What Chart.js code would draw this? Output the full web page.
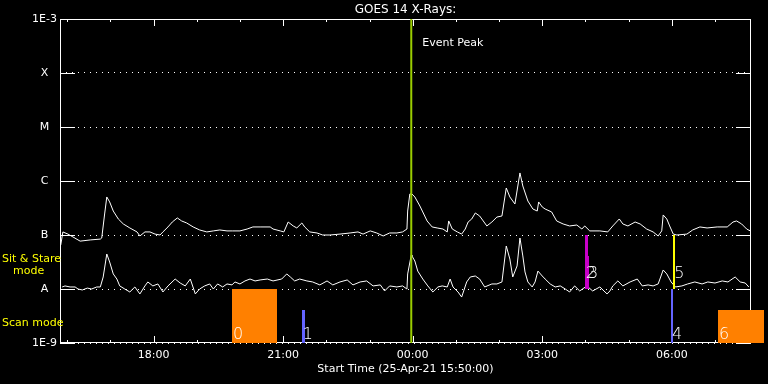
<!DOCTYPE html>
<html>
<head>
<meta charset="utf-8">
<title>GOES 14 X-Rays</title>
<script src="https://cdn.jsdelivr.net/npm/chart.js@4/dist/chart.umd.min.js"></script>
<style>
  html, body { margin: 0; padding: 0; background: #000; }
  #wrap { width: 768px; height: 384px; }
</style>
</head>
<body>
<div id="wrap"><canvas id="chart" width="768" height="384"></canvas></div>
<script>
// Time axis: minutes after start (25-Apr-21 15:50:00)
const startLabel = 'Start Time (25-Apr-21 15:50:00)';
const hourTickMinutes = [10, 70, 130, 190, 250, 310, 370, 430, 490, 550, 610, 670, 730, 790, 850, 910];
const xTickLabels = ['', '', '18:00', '', '', '21:00', '', '', '00:00', '', '', '03:00', '', '', '06:00', ''];

// Flux axis (W/m^2), one tick per decade
const yTickValues = [1e-9, 1e-8, 1e-7, 1e-6, 1e-5, 1e-4, 1e-3];
const yTickLabels = ['1E-9', 'A', 'B', 'C', 'M', 'X', '1E-3'];

// GOES 14 long channel (1-8 A)
const longTimes = [1, 4, 11, 18, 28, 42, 56, 58, 62, 65,
    69, 74, 81, 88, 97, 107, 111, 118, 125, 132,
    139, 143, 150, 156, 163, 169, 176, 185, 194, 204,
    213, 222, 232, 240, 250, 260, 268, 278, 292, 296,
    306, 311, 317, 324, 329, 336, 340, 347, 357, 365,
    375, 389, 403, 414, 421, 431, 440, 449, 458, 468,
    476, 482, 483, 486, 489, 493, 500, 504, 510, 517,
    524, 532, 538, 540, 545, 552, 558, 563, 567, 572,
    577, 583, 588, 593, 600, 607, 614, 620, 625, 632,
    639, 643, 650, 657, 663, 665, 670, 674, 683, 690,
    699, 708, 718, 725, 729, 736, 750, 761, 768, 777,
    782, 789, 799, 806, 815, 824, 831, 836, 838, 843,
    847, 852, 857, 871, 879, 889, 899, 913, 927, 935,
    940, 947, 954, 959];
const longFlux = [6.5e-8, 1.14e-7, 1.04e-7, 9.2e-8, 7.7e-8, 8.1e-8, 8.4e-8, 8.8e-8, 2.45e-7, 5.06e-7,
    4.09e-7, 2.78e-7, 1.98e-7, 1.60e-7, 1.35e-7, 1.14e-7, 9.6e-8, 1.14e-7, 1.14e-7, 1.04e-7,
    1.0e-7, 1.14e-7, 1.41e-7, 1.74e-7, 2.07e-7, 1.82e-7, 1.67e-7, 1.41e-7, 1.24e-7, 1.14e-7,
    1.19e-7, 1.24e-7, 1.19e-7, 1.19e-7, 1.19e-7, 1.29e-7, 1.41e-7, 1.41e-7, 1.41e-7, 1.29e-7,
    1.19e-7, 1.14e-7, 1.74e-7, 1.47e-7, 1.35e-7, 1.67e-7, 1.41e-7, 1.14e-7, 1.09e-7, 1.0e-7,
    1.0e-7, 1.04e-7, 1.09e-7, 1.14e-7, 1.04e-7, 1.19e-7, 1.09e-7, 9.6e-8, 1.09e-7, 1.09e-7,
    1.14e-7, 1.29e-7, 2.78e-7, 5.75e-7, 5.75e-7, 5.06e-7, 3.44e-7, 2.67e-7, 1.82e-7, 1.41e-7,
    1.35e-7, 1.29e-7, 1.14e-7, 1.82e-7, 1.29e-7, 1.14e-7, 1.04e-7, 1.29e-7, 1.74e-7, 1.98e-7,
    2.56e-7, 2.25e-7, 1.82e-7, 1.47e-7, 1.74e-7, 2.15e-7, 2.25e-7, 7.42e-7, 5.06e-7, 3.75e-7,
    1.41e-6, 8.08e-7, 4.26e-7, 3.03e-7, 2.78e-7, 4.09e-7, 3.30e-7, 3.03e-7, 2.67e-7, 1.82e-7,
    1.60e-7, 1.47e-7, 1.53e-7, 1.29e-7, 1.47e-7, 1.19e-7, 1.19e-7, 1.14e-7, 1.47e-7, 1.98e-7,
    1.60e-7, 1.47e-7, 1.74e-7, 1.60e-7, 1.29e-7, 1.14e-7, 9.6e-8, 1.19e-7, 2.35e-7, 1.98e-7,
    1.47e-7, 1.04e-7, 1.0e-7, 1.04e-7, 1.24e-7, 1.41e-7, 1.35e-7, 1.41e-7, 1.41e-7, 1.74e-7,
    1.82e-7, 1.60e-7, 1.29e-7, 1.19e-7];

// GOES 14 short channel (0.5-4 A)
const shortTimes = [3, 7, 14, 21, 25, 31, 38, 44, 51, 56,
    60, 65, 69, 74, 79, 83, 90, 97, 104, 111,
    118, 122, 129, 136, 143, 150, 160, 167, 174, 181,
    188, 194, 201, 208, 213, 219, 226, 232, 239, 243,
    250, 257, 264, 271, 278, 288, 296, 308, 315, 320,
    326, 333, 343, 351, 361, 371, 379, 389, 399, 407,
    417, 426, 435, 445, 451, 458, 468, 476, 482, 483,
    488, 489, 493, 497, 504, 511, 518, 525, 531, 538,
    542, 546, 553, 558, 565, 570, 577, 583, 590, 600,
    607, 614, 620, 625, 629, 635, 639, 643, 646, 650,
    656, 660, 664, 670, 674, 681, 688, 695, 702, 708,
    715, 722, 732, 740, 750, 760, 764, 768, 775, 782,
    792, 802, 809, 817, 824, 831, 838, 843, 849, 855,
    864, 872, 882, 892, 900, 910, 920, 928, 938, 945,
    952, 957];
const shortFlux = [1.09e-8, 1.14e-8, 1.09e-8, 1.09e-8, 1.0e-8, 9.6e-9, 1.04e-8, 1.0e-8, 1.09e-8, 1.09e-8,
    1.67e-8, 4.45e-8, 3.16e-8, 1.90e-8, 1.53e-8, 1.14e-8, 1.0e-8, 8.8e-9, 1.09e-8, 8.1e-9,
    1.14e-8, 1.35e-8, 1.14e-8, 1.24e-8, 8.8e-9, 1.14e-8, 1.53e-8, 1.29e-8, 1.14e-8, 1.53e-8,
    8.1e-9, 1.0e-8, 1.14e-8, 1.24e-8, 1.0e-8, 1.24e-8, 1.09e-8, 1.24e-8, 1.19e-8, 1.35e-8,
    1.24e-8, 1.41e-8, 1.53e-8, 1.41e-8, 1.47e-8, 1.53e-8, 1.41e-8, 1.53e-8, 1.90e-8, 1.67e-8,
    1.41e-8, 1.53e-8, 1.41e-8, 1.35e-8, 1.19e-8, 1.41e-8, 1.19e-8, 1.35e-8, 1.47e-8, 1.19e-8,
    1.35e-8, 1.41e-8, 1.14e-8, 1.19e-8, 9.2e-9, 1.14e-8, 1.09e-8, 1.14e-8, 1.0e-8, 1.90e-8,
    4.26e-8, 4.09e-8, 3.30e-8, 2.15e-8, 1.53e-8, 1.14e-8, 8.8e-9, 1.09e-8, 1.14e-8, 1.09e-8,
    1.53e-8, 1.09e-8, 8.8e-9, 7.1e-9, 1.35e-8, 1.67e-8, 1.74e-8, 1.53e-8, 1.09e-8, 1.24e-8,
    1.24e-8, 1.35e-8, 6.26e-8, 3.59e-8, 1.67e-8, 2.67e-8, 8.80e-8, 4.09e-8, 2.07e-8, 1.35e-8,
    1.09e-8, 1.35e-8, 2.15e-8, 1.74e-8, 1.53e-8, 1.24e-8, 1.09e-8, 1.14e-8, 1.0e-8, 8.8e-9,
    1.14e-8, 9.2e-9, 1.14e-8, 9.2e-9, 1.09e-8, 8.1e-9, 9.2e-9, 1.14e-8, 1.41e-8, 1.14e-8,
    1.35e-8, 1.53e-8, 1.14e-8, 1.19e-8, 1.14e-8, 1.24e-8, 2.25e-8, 1.90e-8, 1.35e-8, 1.09e-8,
    1.14e-8, 1.24e-8, 1.35e-8, 1.24e-8, 1.35e-8, 1.29e-8, 1.41e-8, 1.35e-8, 1.67e-8, 1.35e-8,
    1.29e-8, 1.09e-8];

// Event peak (minutes after start)
const eventPeak = 488;

// Observation markers: start/end minute, flux band they cover
const markerIds = ['0', '1', '2', '3', '4', '5', '6'];
const markerStart = [239, 336, 729, 732, 849, 852, 914];
const markerEnd = [301, 340, 733, 735, 852, 854, 978];
const markerLow = [1e-9, 1e-9, 1e-8, 1e-8, 1e-9, 1e-8, 1e-9];
const markerHigh = [1e-8, 4e-9, 1e-7, 4e-8, 1e-8, 1e-7, 4e-9];

// styles
const FONT = '"DejaVu Sans", sans-serif';
const markerColors = ['#ff8000', '#6464ff', '#c800c8', '#c800c8', '#6464ff', '#ffff00', '#ff8000'];

Chart.defaults.font.family = FONT;

// IDL style frame: inward ticks on all sides, mode labels, marker boxes
const idlFrame = {
    id: 'idlFrame',
    beforeDatasetsDraw(chart) {
        const { ctx, chartArea: a, scales: { x, y } } = chart;
        ctx.save();
        ctx.strokeStyle = '#fff';
        ctx.lineWidth = 1;
        ctx.strokeRect(a.left + 0.5, a.top + 0.5, a.right - a.left - 1, a.bottom - a.top - 1);

        ctx.beginPath();
        x.ticks.forEach((t, i) => {
            const px = Math.round(x.getPixelForValue(t.value)) + 0.5;
            const len = xTickLabels[i] ? 7 : 3;
            ctx.moveTo(px, a.bottom); ctx.lineTo(px, a.bottom - len);
            ctx.moveTo(px, a.top); ctx.lineTo(px, a.top + len);
        });
        y.ticks.forEach(t => {
            const py = Math.round(y.getPixelForValue(t.value)) + 0.5;
            ctx.moveTo(a.left, py); ctx.lineTo(a.left + 15, py);
            ctx.moveTo(a.right - 15, py); ctx.lineTo(a.right, py);
        });
        ctx.stroke();

        // mode labels on the left
        ctx.fillStyle = '#ffff00';
        ctx.font = '11px ' + FONT;
        ctx.textAlign = 'left';
        ctx.textBaseline = 'middle';
        const sit = y.getPixelForValue(Math.sqrt(1e-8 * 1e-7));
        const scan = y.getPixelForValue(Math.sqrt(1e-9 * 1e-8));
        ctx.fillText('Sit & Stare', 2, sit - 3);
        ctx.fillText('mode', 13, sit + 9);
        ctx.fillText('Scan mode', 2, scan + 7);

        // event label
        ctx.fillStyle = '#fff';
        ctx.fillText('Event Peak', x.getPixelForValue(eventPeak) + 11, a.top + 24);
        ctx.restore();
    },
    afterDatasetsDraw(chart) {
        const { ctx, chartArea: a, scales: { x, y } } = chart;
        ctx.save();
        markerIds.forEach((id, i) => {
            const x0 = x.getPixelForValue(markerStart[i]);
            const x1 = x.getPixelForValue(markerEnd[i]);
            const yTop = y.getPixelForValue(markerHigh[i]);
            const yBot = y.getPixelForValue(markerLow[i]);
            ctx.fillStyle = markerColors[i];
            ctx.fillRect(Math.round(x0), Math.round(yTop), Math.max(2, Math.round(x1 - x0)), Math.round(yBot - yTop));
        });
        ctx.fillStyle = '#fff';
        ctx.font = '200 16px ' + FONT;
        ctx.textAlign = 'left';
        ctx.textBaseline = 'alphabetic';
        markerIds.forEach((id, i) => {
            const x0 = x.getPixelForValue(markerStart[i]);
            const base = markerLow[i] <= 1e-9 ? a.bottom - 4 : y.getPixelForValue(markerLow[i]) - 11;
            ctx.fillText(id, x0 + 1, base);
        });
        ctx.restore();
    }
};

const ctx = document.getElementById('chart').getContext('2d');
const chart = new Chart(ctx, {
    type: 'line',
    data: {
        datasets: [
            {
                label: 'Event Peak',
                data: [{ x: eventPeak, y: 1e-9 }, { x: eventPeak, y: 1e-3 }],
                borderColor: 'rgb(154, 205, 0)',
                borderWidth: 2
            },
            {
                label: 'GOES 14 1-8 A',
                data: longTimes.map((t, i) => ({ x: t, y: longFlux[i] })),
                borderColor: '#fff',
                borderWidth: 1
            },
            {
                label: 'GOES 14 0.5-4 A',
                data: shortTimes.map((t, i) => ({ x: t, y: shortFlux[i] })),
                borderColor: '#fff',
                borderWidth: 1
            }
        ]
    },
    options: {
        responsive: false,
        animation: false,
        elements: {
            point: { radius: 0 },
            line: { tension: 0 }
        },
        layout: { padding: { left: 0, right: 17, top: 0, bottom: 0 } },
        plugins: {
            legend: { display: false },
            tooltip: { enabled: false },
            title: {
                display: true,
                fullSize: false,
                text: 'GOES 14 X-Rays:',
                color: '#fff',
                font: { size: 12, weight: 'normal', lineHeight: 1.2 },
                padding: { top: 3, bottom: 1.6 }
            }
        },
        scales: {
            x: {
                type: 'linear',
                min: 0,
                max: 960,
                afterFit(s) { s.height = 41; },
                afterBuildTicks(s) { s.ticks = hourTickMinutes.map(v => ({ value: v })); },
                grid: { display: false, drawTicks: false },
                border: { display: false },
                ticks: {
                    autoSkip: false,
                    maxRotation: 0,
                    padding: 6,
                    color: '#fff',
                    font: { size: 11 },
                    callback: (v, i) => xTickLabels[i]
                },
                title: {
                    display: true,
                    text: startLabel,
                    color: '#fff',
                    font: { size: 11 },
                    padding: { top: 0, bottom: 8 }
                }
            },
            y: {
                type: 'logarithmic',
                min: 1e-9,
                max: 1e-3,
                afterFit(s) { s.width = 60; },
                afterBuildTicks(s) { s.ticks = yTickValues.map(v => ({ value: v })); },
                grid: { color: '#fff', lineWidth: 1, drawTicks: false },
                border: { display: false, dash: [1, 5] },
                ticks: {
                    crossAlign: 'center',
                    padding: 3,
                    color: '#fff',
                    font: { size: 11 },
                    callback: (v, i) => yTickLabels[i]
                }
            }
        }
    },
    plugins: [idlFrame]
});
</script>
</body>
</html>
